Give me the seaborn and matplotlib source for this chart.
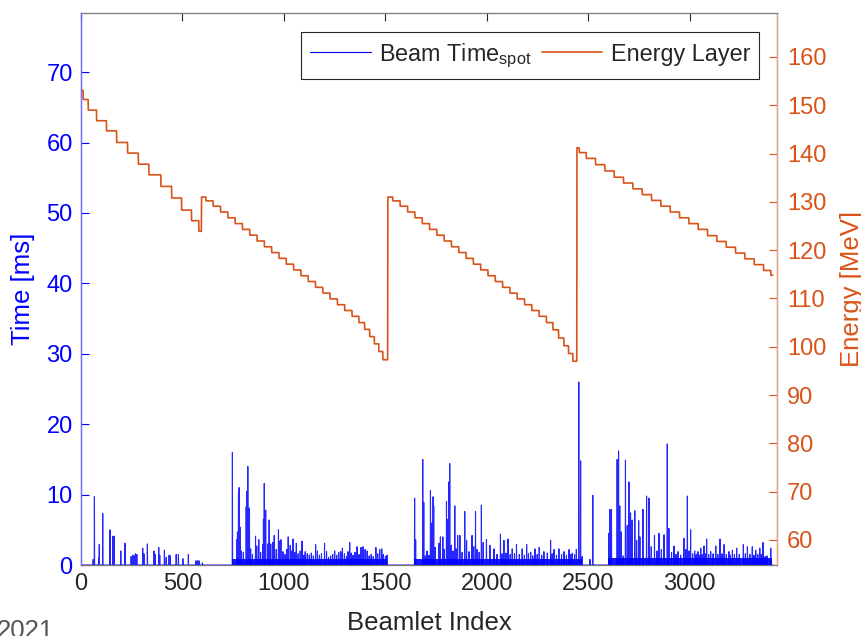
import numpy as np
import pandas as pd
import seaborn as sns
import matplotlib.pyplot as plt
from matplotlib.lines import Line2D

n_beamlets = 3410

# energy layers: first beamlet index of each layer and its energy [MeV]
layer_start = [0, 11, 36, 77, 126, 176, 230, 283, 335, 394, 447, 496, 545, 581,
               594, 616, 652, 688, 724, 760, 796, 832, 868, 904, 940, 976, 1012, 1048,
               1084, 1120, 1156, 1192, 1228, 1264, 1300, 1336, 1370, 1398, 1423, 1446, 1468, 1488,
               1512, 1537, 1573, 1610, 1646, 1682, 1718, 1754, 1790, 1826, 1862, 1898, 1934, 1970,
               2006, 2042, 2078, 2114, 2150, 2186, 2222, 2258, 2294, 2326, 2354, 2380, 2403, 2424,
               2444, 2456, 2490, 2536, 2582, 2628, 2674, 2720, 2766, 2812, 2858, 2904, 2950, 2996,
               3042, 3088, 3134, 3180, 3226, 3272, 3318, 3364, 3400]
layer_energy = [153.1, 151.2, 149.0, 146.8, 144.7, 142.3, 140.1, 137.8, 135.6, 133.2, 130.8, 128.3, 126.1, 123.9,
                131.0, 130.2, 129.1, 127.9, 126.7, 125.5, 124.3, 123.1, 121.9, 120.7, 119.5, 118.3, 117.1, 115.9,
                114.7, 113.5, 112.3, 111.1, 109.9, 108.7, 107.5, 106.3, 105.0, 103.6, 102.1, 100.6, 99.0, 97.3,
                131.0, 130.2, 129.1, 127.9, 126.7, 125.5, 124.3, 123.1, 121.9, 120.7, 119.5, 118.3, 117.1, 115.9,
                114.7, 113.5, 112.3, 111.1, 109.9, 108.7, 107.5, 106.3, 105.0, 103.5, 101.8, 100.2, 98.6, 97.0,
                141.2, 140.2, 139.0, 137.7, 136.4, 135.1, 133.9, 132.7, 131.5, 130.3, 129.1, 127.9, 126.7, 125.5,
                124.3, 123.0, 121.8, 120.6, 119.4, 118.2, 117.0, 115.8, 114.8]

# spot beam times [ms] (visible spikes)
spike_index = [60, 66, 88, 90, 107, 143, 157, 163, 196, 217, 247, 255, 262, 268, 275, 304, 310, 327,
               360, 366, 383, 388, 411, 420, 434, 440, 469, 480, 502, 529, 566, 574, 582, 598,
               746, 768, 771, 776, 779, 784, 790, 800, 814, 818, 822, 826, 830, 836, 845, 860, 866,
               876, 885, 895, 899, 903, 907, 910, 920, 927, 935, 945, 952, 962, 973, 978, 985, 995,
               1005, 1014, 1021, 1031, 1038, 1045, 1053, 1061, 1070, 1080, 1089, 1098, 1105, 1115,
               1125, 1135, 1145, 1156, 1165, 1175, 1185, 1200, 1210, 1220, 1230, 1240, 1250, 1260,
               1270, 1280, 1288, 1298, 1308, 1316, 1324, 1332, 1340, 1350, 1360, 1370, 1380, 1390,
               1400, 1410, 1420, 1430, 1440, 1453, 1462, 1472, 1482, 1490, 1500, 1508,
               1644, 1649, 1684, 1689, 1697, 1705, 1715, 1722, 1730, 1735, 1738, 1745, 1763, 1771,
               1783, 1790, 1801, 1805, 1808, 1812, 1817, 1825, 1833, 1842, 1849, 1856, 1867, 1878,
               1891, 1900, 1912, 1927, 1935, 1944, 1952, 1962, 1973, 1982, 1998, 2015, 2035, 2050,
               2067, 2075, 2084, 2094, 2104, 2115, 2125, 2136, 2146, 2160, 2174, 2185, 2196, 2205,
               2216, 2226, 2237, 2248, 2258, 2270, 2281, 2298, 2314, 2322, 2331, 2343, 2355, 2368,
               2380, 2392, 2405, 2413, 2421, 2432, 2441, 2453, 2462, 2470,
               2508, 2522, 2601, 2606, 2614, 2642, 2649, 2655, 2662, 2672, 2683, 2692, 2700, 2708,
               2716, 2729, 2738, 2748, 2754, 2769, 2787, 2799, 2810, 2826, 2838, 2848, 2860, 2873,
               2889, 2897, 2910, 2922, 2932, 2942, 2955, 2971, 2980, 2988, 2996, 3004, 3014, 3024,
               3032, 3040, 3047, 3054, 3062, 3070, 3076, 3083, 3093, 3103, 3115, 3128, 3138, 3149,
               3159, 3169, 3180, 3193, 3200, 3210, 3220, 3231, 3244, 3264, 3274, 3284, 3296, 3308,
               3316, 3325, 3335, 3345, 3353, 3361, 3371, 3380, 3399]
spike_ms = [0.8, 9.7, 1.0, 2.9, 7.3, 5.0, 4.1, 4.1, 2.0, 3.1, 1.2, 1.4, 1.3, 1.6, 1.5, 2.4, 1.6, 3.0,
            2.0, 1.5, 2.5, 1.4, 2.1, 1.1, 1.4, 1.3, 1.5, 1.5, 0.9, 1.5, 0.6, 0.6, 0.6, 0.3,
            16.0, 3.6, 4.7, 10.3, 11.0, 5.4, 2.0, 1.8, 8.3, 10.5, 14.0, 6.0, 8.1, 2.3, 1.5, 4.1, 2.7,
            3.6, 1.8, 2.9, 6.5, 11.6, 6.8, 7.8, 3.0, 6.4, 3.0, 3.2, 4.2, 2.2, 5.0, 3.4, 3.6, 1.9,
            1.5, 2.2, 4.0, 2.8, 2.0, 3.7, 1.8, 3.1, 1.6, 2.0, 3.4, 1.4, 1.9, 1.6,
            1.4, 1.7, 1.3, 2.9, 2.0, 1.4, 1.6, 3.1, 1.9, 1.1, 1.3, 1.5, 2.0, 1.4,
            1.8, 1.9, 2.4, 1.6, 1.2, 1.9, 3.2, 1.7, 1.4, 1.8, 2.6, 1.5, 2.5, 2.6,
            2.2, 2.0, 1.3, 1.5, 1.2, 2.5, 1.6, 2.2, 2.3, 1.5, 1.2, 1.4,
            9.5, 3.6, 15.0, 8.9, 1.3, 2.0, 1.4, 10.6, 6.0, 9.7, 8.4, 2.5, 3.1, 4.0,
            4.0, 2.2, 9.0, 4.7, 6.5, 11.8, 14.4, 2.8, 2.0, 8.4, 2.3, 4.2, 4.2, 1.8,
            7.6, 3.5, 1.9, 4.2, 2.6, 7.6, 2.2, 1.8, 8.5, 3.2, 3.6, 2.8, 2.3, 1.5,
            4.4, 1.6, 3.5, 1.7, 3.7, 1.5, 2.3, 1.6, 2.9, 1.5, 2.3, 1.4, 2.9, 1.6,
            1.8, 1.3, 2.3, 1.5, 2.5, 1.4, 1.9, 1.7, 3.5, 1.6, 2.2, 1.4, 2.3, 1.5,
            1.9, 1.4, 2.2, 1.5, 1.7, 1.5, 2.2, 26.0, 14.8, 1.2,
            0.8, 9.9, 4.5, 7.9, 7.9, 15.0, 16.2, 8.4, 4.7, 1.3, 14.9, 5.6, 11.8, 7.4,
            6.4, 7.7, 3.5, 6.3, 4.0, 7.9, 9.8, 9.5, 2.6, 4.2, 2.0, 4.5, 2.2, 4.3,
            17.2, 5.2, 1.8, 2.7, 1.5, 1.9, 1.4, 3.8, 2.2, 9.8, 2.0, 5.0, 1.6, 2.0,
            1.5, 1.9, 1.4, 2.4, 1.5, 2.7, 1.6, 3.7, 1.5, 1.9, 1.6, 2.7, 1.5, 3.7,
            1.6, 2.9, 1.5, 1.9, 1.4, 2.1, 1.5, 2.4, 1.5, 2.9, 1.6, 2.6, 1.5, 2.6,
            1.4, 2.1, 1.5, 2.4, 1.5, 3.2, 1.2, 1.3, 2.4]

# dense low-level spot times, seen as a solid band near the baseline
band_start = [745, 1640, 2598]
band_end = [1510, 2470, 3405]
band_ms = [0.9, 0.9, 1.0]

beamlet = np.arange(n_beamlets)
energy = np.repeat(layer_energy, np.diff(layer_start + [n_beamlets]))
time = np.zeros(n_beamlets)
time[spike_index] = spike_ms
df = pd.DataFrame({"beamlet": beamlet, "time": time, "energy": energy})

sns.set_style("white")
plt.rcParams["font.family"] = ["Liberation Sans", "DejaVu Sans"]
plt.rcParams["mathtext.fontset"] = "custom"
plt.rcParams["mathtext.rm"] = "Liberation Sans"
plt.rcParams["mathtext.it"] = "Liberation Sans"

blue = "#0000ff"
orange = "#D95319"
dark = "#262626"

fig = plt.figure(figsize=(8.61, 6.36), dpi=100)
ax = fig.add_axes([0.0941, 0.1116, 0.8084, 0.8679])

for s, e, lev in zip(band_start, band_end, band_ms):
    ax.fill_between([s, e], 0, lev, color=blue, lw=0, alpha=0.9)
sns.lineplot(data=df, x="beamlet", y="time", color=blue, lw=0.8, alpha=0.85,
             estimator=None, legend=False, ax=ax)

ax2 = ax.twinx()
sns.lineplot(data=df, x="beamlet", y="energy", color=orange, lw=1.2,
             estimator=None, legend=False, ax=ax2)

ax.set_xlim(0, 3430)
ax.set_ylim(0, 78.4)
ax2.set_ylim(54.8, 169.1)
ax.set_xticks([0, 500, 1000, 1500, 2000, 2500, 3000])
ax.set_yticks(range(0, 80, 10))
ax2.set_yticks(range(60, 170, 10))

fs = 17
lfs = 18.5
ax.tick_params(axis="x", direction="in", length=6, width=0.8, colors=dark,
               labelsize=fs, pad=6, top=True)
ax.tick_params(axis="y", direction="in", length=6, width=0.8, colors=blue,
               labelsize=fs, pad=6)
ax2.tick_params(axis="y", direction="in", length=6, width=0.8, colors=orange,
                labelsize=fs, pad=7)

for sp in ["top", "bottom"]:
    ax2.spines[sp].set_color("#7a7a7a")
    ax2.spines[sp].set_linewidth(0.8)
ax2.spines["left"].set_color("#6f6fff")
ax2.spines["right"].set_color("#f0a080")
ax2.spines["left"].set_linewidth(1.0)
ax2.spines["right"].set_linewidth(1.0)

ax.set_xlabel("Beamlet Index", fontsize=lfs, color=dark)
ax.xaxis.set_label_coords(0.5, -0.083)
ax.set_ylabel("Time [ms]", fontsize=lfs, color=blue)
ax.yaxis.set_label_coords(-0.066, 0.5)
ax2.set_ylabel("Energy [MeV]", fontsize=lfs, color=orange)
ax2.yaxis.set_label_coords(1.09, 0.5)

handles = [Line2D([], [], color=blue, lw=0.8),
           Line2D([], [], color=orange, lw=1.2)]
leg = ax2.legend(handles, [r"Beam Time$_{\mathrm{spot}}$", "Energy Layer"],
                 ncol=2, loc="upper right", bbox_to_anchor=(0.9746, 0.966),
                 borderaxespad=0, fancybox=False, framealpha=1, fontsize=16.8,
                 handlelength=2.6, columnspacing=0.45, handletextpad=0.35,
                 borderpad=0.4)
leg.get_frame().set_edgecolor(dark)
leg.get_frame().set_linewidth(0.8)
for t in leg.get_texts():
    t.set_color(dark)

fig.text(-0.004, 0.027, "2021", fontsize=18.5, color="#555555", va="top", ha="left")

fig.savefig("out.png", dpi=100)
